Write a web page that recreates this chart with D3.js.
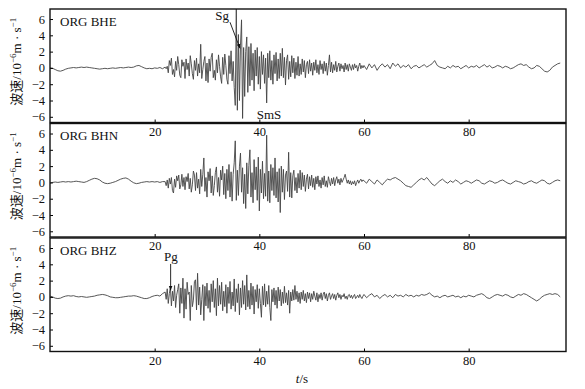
<!DOCTYPE html>
<html>
<head>
<meta charset="utf-8">
<script src="https://cdn.jsdelivr.net/npm/d3@7"></script>
<style>
body { margin: 0; background: #fff; }
svg text { font-family: "Liberation Serif", "Noto Sans CJK SC", serif; fill: #111; }
</style>
</head>
<body>
<svg id="chart" width="585" height="389"></svg>
<script>
// Channels and ticks
let channels = ['ORG BHE', 'ORG BHN', 'ORG BHZ']
let xTicks = [20, 40, 60, 80]
let yTicks = [-6, -4, -2, 0, 2, 4, 6]

// each trace is kept in three pieces: [start time (s), sample step (s)]
let quietSampling = [0, 0.5]
let activeSampling = [22, 0.2]
let tailSampling = [60, 0.5]

// velocity, 10^-6 m/s
let bheQuiet = [0.0, -0.05, -0.2, -0.35, -0.4, -0.3, -0.15, -0.05, 0.0, 0.05, 0.0, 0.05, 0.1, 0.05, 0.1, 0.05, 0.0, -0.05, -0.1, -0.15, -0.1, -0.05, -0.1, -0.05, 0.0, -0.05, 0.0, 0.05, 0.0, 0.05, 0.1, 0.05, 0.1, 0.25, 0.3, 0.15, 0.0, -0.1, -0.05, -0.1, 0.0, -0.05, 0.05, -0.1]
let bheActive = [
    0.1, -0.1, 0.2, -0.6, 0.9, 0.3, 1.2, -0.8, -0.2, -1.1,
    0.8, -0.3, 1.4, 0.4, -0.9, -1.2, 1.0, 0.2, 0.7, -1.3,
    1.1, -0.2, 0.6, -1.0, 1.5, 0.5, -0.7, -1.4, 0.9, -0.3,
    1.2, -1.0, 0.5, -0.6, 2.9, -1.3, -0.2, 0.8, 1.4, -1.6,
    0.6, -1.8, 1.1, -0.4, 1.3, 1.8, -1.2, -0.3, -1.5, 1.0,
    -0.6, 1.6, 0.2, -1.1, -1.9, 1.3, -0.8, 1.7, 0.3, -1.4,
    -2.0, 1.5, -0.7, 2.1, -1.6, 0.8, -2.4, -4.6, 7.6, -5.2,
    4.1, -4.0, 2.8, 5.9, -6.2, 2.5, -3.5, 2.0, 3.8, -3.0,
    2.6, -2.2, 3.0, -1.5, 1.8, -2.8, 2.2, -1.0, 2.5, -2.0,
    1.4, -2.6, 2.0, -0.8, 1.6, -1.9, 1.2, -4.3, 1.8, -1.2,
    2.1, -1.5, 0.9, -2.0, 1.6, -0.7, 1.9, -1.6, 1.1, -1.3,
    1.8, -1.0, 2.4, -1.2, 1.3, -2.1, 0.9, 1.6, -1.4, 0.8,
    -1.1, 1.5, -0.6, 1.2, -1.3, 0.7, -0.9, 1.4, -1.0, 0.5,
    -0.8, 1.1, -0.5, 0.9, -1.2, 0.4, 0.8, -0.7, 1.0, -0.4,
    0.6, -0.9, 0.7, -0.3, 1.0, -0.6, 0.4, -0.8, 0.9, -0.2,
    0.5, -0.7, 0.8, -0.4, 0.6, -0.9, 0.3, 1.6, -0.5, 0.7,
    -0.6, 0.4, -0.3, 0.8, -0.5, 0.2, 0.6, -0.4, 0.5, -0.1,
    0.3, -0.5, 0.6, -0.2, 0.4, -0.4, 0.5, 0.1, -0.3, 0.4,
    -0.2, 0.5, 0.0, 0.3, -0.4, 0.2, 0.6, -0.1, 0.3, 0.0]
let bheTail = [
    0.3, -0.2, 0.5, 0.0, 0.4, -0.3, 0.2, 0.5, 0.1, 0.4,
    -0.1, 0.6, 0.2, 0.5, 0.0, 0.3, 0.1, 0.4, -0.1, 0.2,
    0.3, 0.0, 0.2, 0.4, 0.1, 0.3, 0.5, 0.9, 0.3, 0.1,
    0.0, -0.1, 0.2, 0.0, 0.3, 0.1, 0.2, -0.1, 0.1, 0.3,
    0.0, 0.2, 0.1, 0.3, 0.0, 0.2, 0.4, 0.1, 0.3, 0.0,
    0.1, 0.3, 0.2, 0.0, 0.2, 0.1, -0.1, 0.0, 0.2, 0.4,
    0.5, 0.3, 0.4, 0.1, -0.1, 0.0, 0.3, 0.2, -0.1, -0.4,
    -0.5, -0.3, 0.1, 0.3, 0.5, 0.6]

let bhnQuiet = [-0.1, 0.0, 0.05, 0.0, 0.05, 0.1, 0.05, 0.1, 0.05, 0.1, 0.15, 0.1, 0.05, 0.0, 0.1, 0.25, 0.4, 0.5, 0.45, 0.3, 0.05, -0.1, -0.15, -0.1, 0.0, 0.1, 0.25, 0.4, 0.5, 0.55, 0.4, 0.15, -0.05, -0.15, -0.1, 0.0, 0.05, 0.1, 0.05, 0.1, 0.05, 0.1, 0.0, 0.1]
let bhnActive = [
    0.1, -0.4, 0.3, -0.7, 0.5, -0.2, 0.6, -1.0, -1.3, 0.4,
    -0.6, 0.8, 0.2, 0.9, -0.8, -0.3, 1.0, -0.5, 0.6, -0.9,
    0.7, 0.1, 1.1, -0.8, 0.5, -1.2, -0.3, 1.4, 0.9, -1.0,
    1.2, -0.7, 0.4, -1.4, 1.6, -0.5, 1.0, 3.0, -1.1, 0.6,
    -1.8, 1.3, 0.2, 1.7, -1.3, 0.8, -1.6, -0.4, 1.2, 1.9,
    -1.2, 0.6, -1.7, 1.5, 0.3, 2.0, -1.5, 1.1, -2.0, 1.6,
    -1.0, 2.2, -1.8, 1.3, -2.3, 1.0, 2.4, 5.1, -2.2, 1.5,
    -1.6, 2.0, 3.6, -1.2, 1.8, -2.6, 1.0, -3.2, 2.4, -1.4,
    2.1, 4.0, -1.8, 1.2, -2.5, 2.8, -0.9, 1.9, -2.2, 3.1,
    -3.5, 1.6, -1.3, 2.6, -2.0, 1.1, -1.7, 5.8, -2.3, 1.4,
    -2.5, 2.2, -1.0, 1.8, -1.6, 3.0, -1.9, 1.3, -2.4, 1.7,
    -3.7, 2.0, -1.2, 1.6, -2.1, 0.9, 1.4, -1.1, 3.7, -1.8,
    1.2, -1.9, 0.8, 1.5, -1.0, 0.6, -1.3, 1.1, -0.7, 1.5,
    -0.9, 1.2, -0.5, 0.9, -1.1, 0.4, 1.0, -0.8, 0.7, -0.4,
    0.9, -0.6, 0.5, -0.9, 0.7, -0.2, 0.8, -0.5, 0.3, -0.7,
    0.6, -0.3, 0.8, -0.5, 0.2, -0.6, 0.7, 0.1, -0.4, 0.5,
    -0.2, 0.6, -0.4, 0.3, 0.7, -0.1, 0.4, -0.3, 0.5, 0.0,
    0.3, 0.6, 1.0, 0.4, -0.1, 0.3, -0.2, 0.2, -0.3, 0.1,
    -0.2, 0.2, -0.4, 0.0, 0.3, -0.1, 0.2, 0.4, 0.1, 0.3]
let bhnTail = [
    0.2, -0.1, 0.4, 0.1, -0.2, 0.3, 0.0, -0.3, 0.1, 0.4,
    0.3, 0.5, 0.6, 0.4, 0.2, -0.1, -0.4, -0.5, -0.6, -0.3,
    0.0, 0.3, 0.5, 0.3, 0.6, 0.2, -0.2, -0.4, -0.1, 0.2,
    0.4, 0.1, -0.1, 0.2, 0.0, 0.3, 0.1, -0.2, 0.0, 0.2,
    0.1, -0.1, 0.1, 0.3, 0.2, -0.1, -0.2, 0.0, 0.2, 0.1,
    -0.1, 0.0, 0.2, 0.3, 0.1, -0.1, -0.2, 0.0, 0.2, 0.1,
    0.0, -0.2, -0.1, 0.1, 0.2, 0.0, -0.1, 0.1, 0.3, 0.2,
    -0.1, -0.2, 0.0, 0.2, 0.3, 0.2]

let bhzQuiet = [0.1, 0.0, -0.15, -0.2, -0.15, 0.0, 0.1, 0.15, 0.1, 0.15, 0.05, 0.0, 0.05, 0.0, -0.05, 0.0, 0.05, 0.1, 0.2, 0.25, 0.3, 0.25, 0.15, 0.0, -0.05, -0.1, -0.1, -0.05, 0.0, 0.05, 0.1, 0.1, 0.15, 0.1, 0.0, -0.1, -0.2, -0.2, -0.1, 0.05, 0.15, 0.2, 0.1, 0.4]
let bhzActive = [
    0.6, -0.3, 1.0, -0.8, 0.4, 1.2, -1.1, 0.7, -0.5, 1.4,
    -1.3, 0.2, 0.9, 1.6, -2.0, 1.1, -0.8, 2.3, -2.6, 1.0,
    -1.5, 1.8, 0.3, 0.6, -2.9, 1.4, -1.2, -0.4, 1.9, 2.1,
    -1.6, 2.9, -1.0, 1.2, -2.2, -0.3, 1.5, -2.9, 1.3, -1.1,
    1.7, -1.4, 0.8, -1.9, 1.6, -0.6, 2.0, -1.3, 1.0, -2.3,
    2.3, -1.1, 1.4, -0.9, 1.8, -1.7, 0.7, -1.2, 1.5, -2.0,
    1.2, -0.8, 1.9, -1.5, 0.6, -1.1, 2.2, -1.8, 1.0, -0.7,
    1.6, -2.2, 1.1, -1.3, 2.0, -0.9, 1.4, -1.6, 2.7, -1.2,
    0.8, -1.5, 1.7, -1.0, 1.3, -2.1, 0.9, -0.6, 1.5, -1.4,
    1.0, -0.8, -2.5, 1.3, -1.0, 1.6, -1.2, 0.7, -0.9, 1.4,
    -1.3, -2.9, 0.9, -0.6, 1.1, -1.0, 0.8, -1.4, 1.2, -0.5,
    0.9, -1.1, 0.6, -0.8, 1.3, -0.7, 0.5, -1.0, 0.8, -2.0,
    0.6, -0.5, 0.9, -0.4, 1.4, -0.3, 0.7, -0.6, 0.5, -0.8,
    0.6, -0.3, 0.8, -0.5, 0.4, -0.7, 0.6, -0.2, 0.5, -0.6,
    0.4, -0.3, 0.7, 0.1, -0.4, 0.5, -0.6, 0.3, -0.2, 0.5,
    -0.4, 0.3, 0.6, -0.2, 0.4, -0.5, 0.2, 0.5, -0.3, 0.1,
    0.4, -0.2, 0.3, -0.4, 0.2, 0.5, -0.1, 0.3, -0.3, 0.2,
    0.0, 0.4, -0.2, 0.1, -0.3, 0.2, 0.3, -0.1, 0.2, -0.2,
    0.1, 0.3, -0.2, 0.0, 0.2, -0.1, 0.3, 0.0, -0.2, 0.1]
let bhzTail = [
    0.3, -0.1, 0.2, 0.4, 0.0, 0.2, -0.2, 0.1, 0.3, 0.0,
    0.2, -0.1, 0.3, 0.1, 0.2, 0.0, 0.3, 0.1, 0.2, 0.0,
    0.2, 0.1, 0.3, 0.2, 0.3, 0.5, 0.2, 0.0, 0.1, -0.1,
    0.1, 0.2, 0.0, 0.1, 0.2, 0.0, 0.1, -0.1, 0.1, 0.0,
    0.2, 0.1, 0.0, 0.2, 0.3, 0.4, 0.2, -0.1, -0.2, 0.0,
    0.2, 0.3, 0.2, 0.1, 0.3, 0.2, 0.0, -0.1, 0.1, 0.3,
    0.2, 0.4, 0.3, 0.1, -0.1, -0.3, -0.5, -0.3, 0.0, 0.2,
    0.3, 0.4, 0.3, 0.4, 0.3, 0.0]

// phase picks: label position and arrow (t in s, v in 10^-6 m/s)
let phaseLabels = [
    {panel: 0, text: 'Sg', t: 31.6, v: 5.9},
    {panel: 0, text: 'SmS', t: 39.5, v: -6.3},
    {panel: 2, text: 'Pg', t: 21.8, v: 4.4}
]
let phaseArrows = [
    {panel: 0, t0: 34.4, v0: 5.6, t1: 36.3, v1: 2.4},
    {panel: 2, t0: 23.05, v0: 4.05, t1: 23.05, v1: 0.8}
]

function buildTrace(quiet, active, tail) {
    let pieces = [[quiet, quietSampling], [active, activeSampling], [tail, tailSampling]]
    let points = []
    pieces.forEach(([vals, s]) => {
        vals.forEach((v, i) => points.push({t: s[0] + i * s[1], v: v}))
    })
    return points
}

let traces = [
    buildTrace(bheQuiet, bheActive, bheTail),
    buildTrace(bhnQuiet, bhnActive, bhnTail),
    buildTrace(bhzQuiet, bhzActive, bhzTail)
]

// layout
let left = 50, right = 566
let panelTops = [9, 123.5, 238]
let panelH = 113.5

let svg = d3.select('#chart')
let x = d3.scaleLinear([0, 98.6], [left, right])

svg.append('defs').append('marker')
    .attr('id', 'head')
    .attr('viewBox', '0 0 10 10')
    .attr('refX', 10).attr('refY', 5)
    .attr('markerWidth', 5).attr('markerHeight', 5)
    .attr('orient', 'auto')
    .append('path').attr('d', 'M0,1 L10,5 L0,9 Z').attr('fill', '#111')

channels.forEach((name, p) => {
    let top = panelTops[p]
    let y = d3.scaleLinear([-6.7, 7.23], [top + panelH, top])
    let g = svg.append('g')

    g.append('clipPath').attr('id', 'clip' + p)
        .append('rect').attr('x', left).attr('y', top).attr('width', right - left).attr('height', panelH)

    let line = d3.line().x((d) => x(d.t)).y((d) => y(d.v))
    g.append('path')
        .datum(traces[p])
        .attr('clip-path', 'url(#clip' + p + ')')
        .attr('fill', 'none')
        .attr('stroke', '#444')
        .attr('stroke-width', 0.9)
        .attr('stroke-linejoin', 'round')
        .attr('d', line)

    let yAxis = d3.axisLeft(y).tickValues(yTicks).tickSizeInner(-3).tickSizeOuter(0).tickPadding(5)
    g.append('g').attr('transform', `translate(${left},0)`).call(yAxis)
        .call((a) => a.select('.domain').remove())
        .call((a) => a.selectAll('text').attr('font-size', 12.5).attr('fill', '#111'))

    let xAxis = d3.axisBottom(x).tickValues(xTicks).tickSizeInner(-3).tickSizeOuter(0).tickPadding(4.5)
    g.append('g').attr('transform', `translate(0,${top + panelH})`).call(xAxis)
        .call((a) => a.select('.domain').remove())
        .call((a) => a.selectAll('text').attr('font-size', 12.5).attr('fill', '#111'))

    g.append('rect')
        .attr('x', left).attr('y', top).attr('width', right - left).attr('height', panelH)
        .attr('fill', 'none').attr('stroke', '#111').attr('stroke-width', 1.4)

    g.append('text')
        .attr('x', left + 10).attr('y', top + 16.5)
        .attr('font-size', 13)
        .text(name)

    let yl = g.append('text')
        .attr('transform', `translate(21,${top + panelH / 2 - 4}) rotate(-90)`)
        .attr('text-anchor', 'middle')
        .attr('font-size', 13)
    yl.append('tspan').text('波速/10')
    yl.append('tspan').attr('font-size', 9).attr('dy', '-0.55em').text('−6')
    yl.append('tspan').attr('dy', '0.38em').text('m · s')
    yl.append('tspan').attr('font-size', 9).attr('dy', '-0.55em').text('−1')

    phaseLabels.filter((d) => d.panel === p).forEach((d) => {
        g.append('text').attr('x', x(d.t)).attr('y', y(d.v)).attr('font-size', 13).text(d.text)
    })
    phaseArrows.filter((d) => d.panel === p).forEach((d) => {
        g.append('line')
            .attr('x1', x(d.t0)).attr('y1', y(d.v0))
            .attr('x2', x(d.t1)).attr('y2', y(d.v1))
            .attr('stroke', '#111').attr('stroke-width', 0.9)
            .attr('marker-end', 'url(#head)')
    })
})

let xl = svg.append('text')
    .attr('x', 302).attr('y', 383)
    .attr('text-anchor', 'middle')
    .attr('font-size', 13)
xl.append('tspan').attr('font-style', 'italic').text('t')
xl.append('tspan').text('/s')
</script>
</body>
</html>
